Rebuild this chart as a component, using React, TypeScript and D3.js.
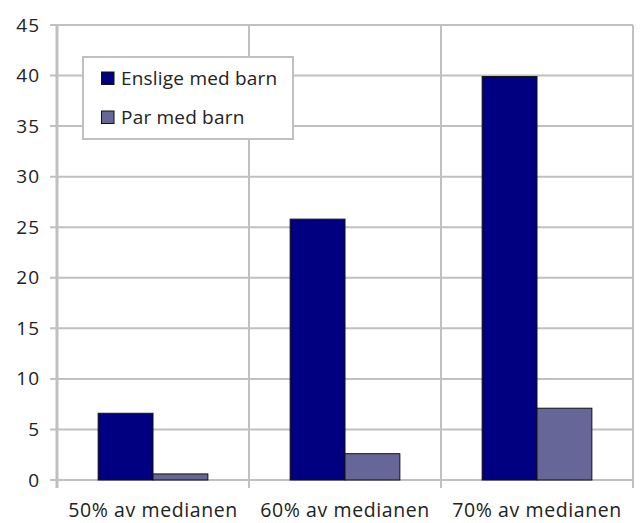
import React from "react";
import * as d3 from "d3";

const categories = ["50% av medianen", "60% av medianen", "70% av medianen"];
const seriesNames = ["Enslige med barn", "Par med barn"];
const enslige = [6.6, 25.8, 39.9];
const par = [0.6, 2.6, 7.1];
const yTicks = [0, 5, 10, 15, 20, 25, 30, 35, 40, 45];
const colors = ["#000080", "#666699"];

const W = 641;
const H = 523;
const left = 57;
const right = 633;
const top = 25;
const bottom = 480;
const grid = "#c0c0c0";
const font = "'Open Sans', sans-serif";

export default function App() {
  const x0 = d3.scaleBand<string>().domain(categories).range([left, right]).padding(0);
  const bw = x0.bandwidth();
  const barW = bw / 3.5;
  const x1 = d3.scaleBand<string>().domain(seriesNames).range([barW * 0.75, bw - barW * 0.75]).padding(0);
  const y = d3.scaleLinear().domain([0, 45]).range([bottom, top]);
  const values = [enslige, par];
  const boundaries = [left, ...categories.map((c) => (x0(c) as number) + bw)];

  return (
    <svg width={W} height={H} style={{ position: "absolute", left: 0, top: 0, background: "#fff" }}>
      <rect x={0} y={0} width={W} height={H} fill="#fff" />
      {yTicks.map((t) => (
        <line key={"g" + t} x1={left - 7} x2={right} y1={y(t)} y2={y(t)} stroke={grid} strokeWidth={2} />
      ))}
      {boundaries.map((b, i) => (
        <line key={"v" + i} x1={b} x2={b} y1={top} y2={bottom + 8} stroke={grid} strokeWidth={i === 0 ? 3 : 2} />
      ))}
      {yTicks.map((t) => (
        <text key={"t" + t} x={40} y={y(t) + 6.5} textAnchor="end" fontFamily={font} fontSize={19} letterSpacing={1} fill="#222">
          {t}
        </text>
      ))}
      {values.map((vals, si) =>
        vals.map((v, ci) => (
          <rect
            key={si + "-" + ci}
            x={(x0(categories[ci]) as number) + (x1(seriesNames[si]) as number)}
            y={y(v)}
            width={x1.bandwidth()}
            height={y(0) - y(v)}
            fill={colors[si]}
            stroke="#111"
            strokeWidth={1}
          />
        ))
      )}
      {categories.map((c) => (
        <text key={c} x={(x0(c) as number) + bw / 2} y={517} textAnchor="middle" fontFamily={font} fontSize={19.5} letterSpacing={0.6} fill="#222">
          {c}
        </text>
      ))}
      <g>
        <rect x={83} y={57} width={210} height={82} fill="#fff" stroke={grid} strokeWidth={2} />
        {seriesNames.map((s, i) => (
          <g key={s}>
            <rect x={101.5} y={72 + i * 39} width={12.5} height={12.5} fill={colors[i]} stroke="#111" strokeWidth={1} />
            <text x={121} y={85 + i * 38.5} fontFamily={font} fontSize={19} letterSpacing={0.2} fill="#222">
              {s}
            </text>
          </g>
        ))}
      </g>
    </svg>
  );
}
